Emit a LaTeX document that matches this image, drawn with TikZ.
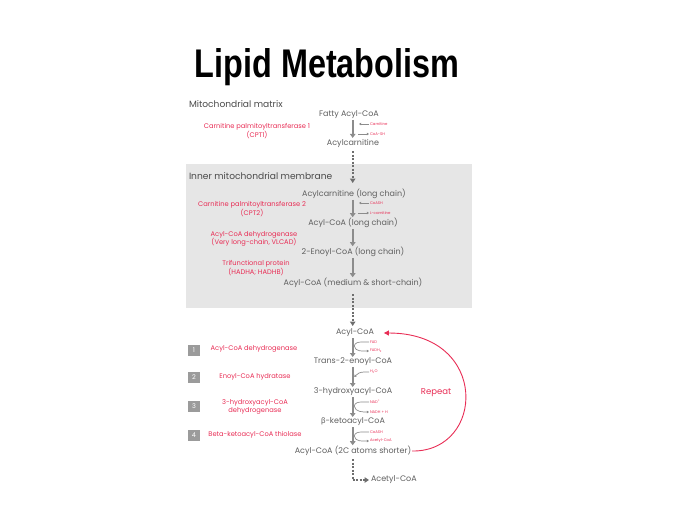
\documentclass[tikz,border=0pt]{standalone}
\usepackage{fontspec}
\setmainfont{Poppins}
\newfontfamily\titlefont{Liberation Sans}
\newfontfamily\greekfont{Lato}
\usetikzlibrary{arrows.meta,calc}
\definecolor{txtgray}{RGB}{95,95,95}
\definecolor{hdgray}{RGB}{75,75,75}
\definecolor{arrgray}{RGB}{140,140,140}
\definecolor{dashgray}{RGB}{110,110,110}
\definecolor{redlab}{RGB}{232,45,85}
\definecolor{boxfill}{RGB}{230,230,230}
\definecolor{sqfill}{RGB}{155,155,155}
\tikzset{
  x=1pt,y=-1pt,
  every node/.style={inner sep=1pt,outer sep=0pt},
  metab/.style={text=txtgray,font=\fontsize{8}{9}\selectfont},
  header/.style={text=hdgray,font=\fontsize{9.1}{10}\selectfont,anchor=west},
  enzyme/.style={text=redlab,font=\fontsize{6.7}{8.3}\selectfont,align=center},
  tiny/.style={text=redlab,font=\fontsize{3.8}{4}\selectfont,anchor=west},
  mainarr/.style={draw=arrgray,line width=1.9pt,-{Triangle[width=5.5pt,length=4pt]}},
  sidearr/.style={draw=arrgray,line width=0.7pt,-{Triangle[width=2.6pt,length=2.2pt]}},
  sideline/.style={draw=arrgray,line width=0.7pt},
  dasharr/.style={draw=dashgray,line width=1.8pt,dash pattern=on 2pt off 1.5pt,-{Triangle[width=5.5pt,length=4.5pt,fill=dashgray]}},
  stepsq/.style={fill=sqfill,text=white,minimum width=12pt,minimum height=11pt,font=\fontsize{6.5}{7}\selectfont},
  repeatarr/.style={draw=redlab,line width=0.9pt,-{Triangle[width=5pt,length=5pt]}}
}
\begin{document}
\begin{tikzpicture}
\useasboundingbox (0,0) rectangle (700,507);
% title
\node[anchor=base,font=\titlefont\bfseries\fontsize{40}{44}\selectfont] (title) at (327,77) {\scalebox{0.81}[1]{Lipid Metabolism}};
% gray box
\fill[boxfill] (186,164) rectangle (472,308);
\coordinate (col) at (352.7,0);
% headers
\node[header] (mm) at (188,104) {Mitochondrial matrix};
\node[header] (imm) at (188,176) {Inner mitochondrial membrane};
% upper pathway
\node[metab] (fatty) at (349,115) {Fatty Acyl-CoA};
\node[enzyme] (cpt1) at (257,131) {Carnitine palmitoyltransferase 1\\(CPT1)};
\node[metab] (acylcarn) at (353,143) {Acylcarnitine};
\node[tiny] (carn) at (369,124) {Carnitine};
\node[tiny] (coash1) at (369,134) {CoA-SH};
\node[metab] (acl) at (354,194) {Acylcarnitine (long chain)};
\node[enzyme] (cpt2) at (252,209) {Carnitine palmitoyltransferase 2\\(CPT2)};
\node[tiny] (coash2) at (369,203) {CoASH};
\node[tiny] (lcarn) at (369,213) {L-carnitine};
\node[metab] (aclc) at (353,223) {Acyl-CoA (long chain)};
\node[enzyme] (vlcad) at (254,239) {Acyl-CoA dehydrogenase\\(Very long-chain, VLCAD)};
\node[metab] (enoyl) at (353,252) {2-Enoyl-CoA (long chain)};
\node[enzyme] (tri) at (256,268) {Trifunctional protein\\(HADHA; HADHB)};
\node[metab] (acms) at (353,283) {Acyl-CoA (medium \& short-chain)};
% beta oxidation
\node[metab] (acyl) at (355,333) {Acyl-CoA};
\node[metab] (trans) at (353,362) {Trans-2-enoyl-CoA};
\node[metab] (hydroxy) at (353,392) {3-hydroxyacyl-CoA};
\node[metab] (keto) at (353,422) {{\greekfont β}-ketoacyl-CoA};
\node[metab] (short) at (353,451) {Acyl-CoA (2C atoms shorter)};
\node[metab,anchor=west] (acetyl) at (370,480) {Acetyl-CoA};
\node[tiny] (fad) at (369,342) {FAD};
\node[tiny] (fadh) at (369,351) {FADH\textsubscript{2}};
\node[tiny] (water) at (369,372) {H\textsubscript{2}O};
\node[tiny] (nad) at (369,402) {NAD\textsuperscript{+}};
\node[tiny] (nadh) at (369,412) {NADH + H};
\node[tiny] (coash3) at (369,432) {CoASH};
\node[tiny] (acoa) at (369,441) {Acetyl-CoA};
% step list
\node[stepsq] (s1) at (194,350) {1};
\node[stepsq] (s2) at (194,377) {2};
\node[stepsq] (s3) at (194,406) {3};
\node[stepsq] (s4) at (194,435) {4};
\node[enzyme] (e1) at (254,349) {Acyl-CoA dehydrogenase};
\node[enzyme] (e2) at (255,377) {Enoyl-CoA hydratase};
\node[enzyme] (e3) at (255,407) {3-hydroxyacyl-CoA\\dehydrogenase};
\node[enzyme] (e4) at (255,435) {Beta-ketoacyl-CoA thiolase};
\node[text=redlab,font=\fontsize{8.5}{9}\selectfont] (rep) at (436,393) {Repeat};
% main arrows
\draw[mainarr] (fatty.south -| col) -- (acylcarn.north -| col);
\draw[mainarr] (acl.south -| col) -- (aclc.north -| col);
\draw[mainarr] (aclc.south -| col) -- (enoyl.north -| col);
\draw[mainarr] (enoyl.south -| col) -- (acms.north -| col);
\draw[mainarr] (acyl.south -| col) -- (trans.north -| col);
\draw[mainarr] (trans.south -| col) -- (hydroxy.north -| col);
\draw[mainarr] (hydroxy.south -| col) -- (keto.north -| col);
\draw[mainarr] (keto.south -| col) -- (short.north -| col);
% dashed arrows
\coordinate (d1s) at ($(col)+(0,151)$);
\coordinate (d1e) at ($(col)+(0,183)$);
\coordinate (d2s) at ($(col)+(0,294)$);
\coordinate (d2e) at ($(col)+(0,326)$);
\coordinate (d3s) at ($(col)+(0,459)$);
\draw[dasharr] (d1s) -- (d1e);
\draw[dasharr] (d2s) -- (d2e);
\draw[dasharr] (d3s) |- ([xshift=-1pt]acetyl.west);
% straight side arrows
\draw[sidearr] (carn.west) -- ++(-10,0);
\draw[sidearr] ([xshift=-11pt]coash1.west) -- (coash1.west);
\draw[sidearr] (coash2.west) -- ++(-10,0);
\draw[sidearr] ([xshift=-11pt]lcarn.west) -- (lcarn.west);
% curved side arrows
\draw[sideline] (fad.west) -- ++(-7,0) to[out=180,in=80] ($(col)+(1.5,346)$);
\draw[sidearr] ($(col)+(1.5,346)$) to[out=-80,in=180] (fadh.west);
\draw[sidearr] (water.west) -- ++(-5,0) to[out=180,in=45] ($(col)+(1.5,377)$);
\draw[sideline] (nad.west) -- ++(-7,0) to[out=180,in=80] ($(col)+(1.5,406)$);
\draw[sidearr] ($(col)+(1.5,406)$) to[out=-80,in=180] (nadh.west);
\draw[sideline] (coash3.west) -- ++(-7,0) to[out=180,in=80] ($(col)+(1.5,436)$);
\draw[sidearr] ($(col)+(1.5,436)$) to[out=-80,in=180] (acoa.west);
% repeat
\draw[repeatarr] (short.east) .. controls (485,452) and (490,333) .. ([xshift=9pt]acyl.east);
\end{tikzpicture}
\end{document}
